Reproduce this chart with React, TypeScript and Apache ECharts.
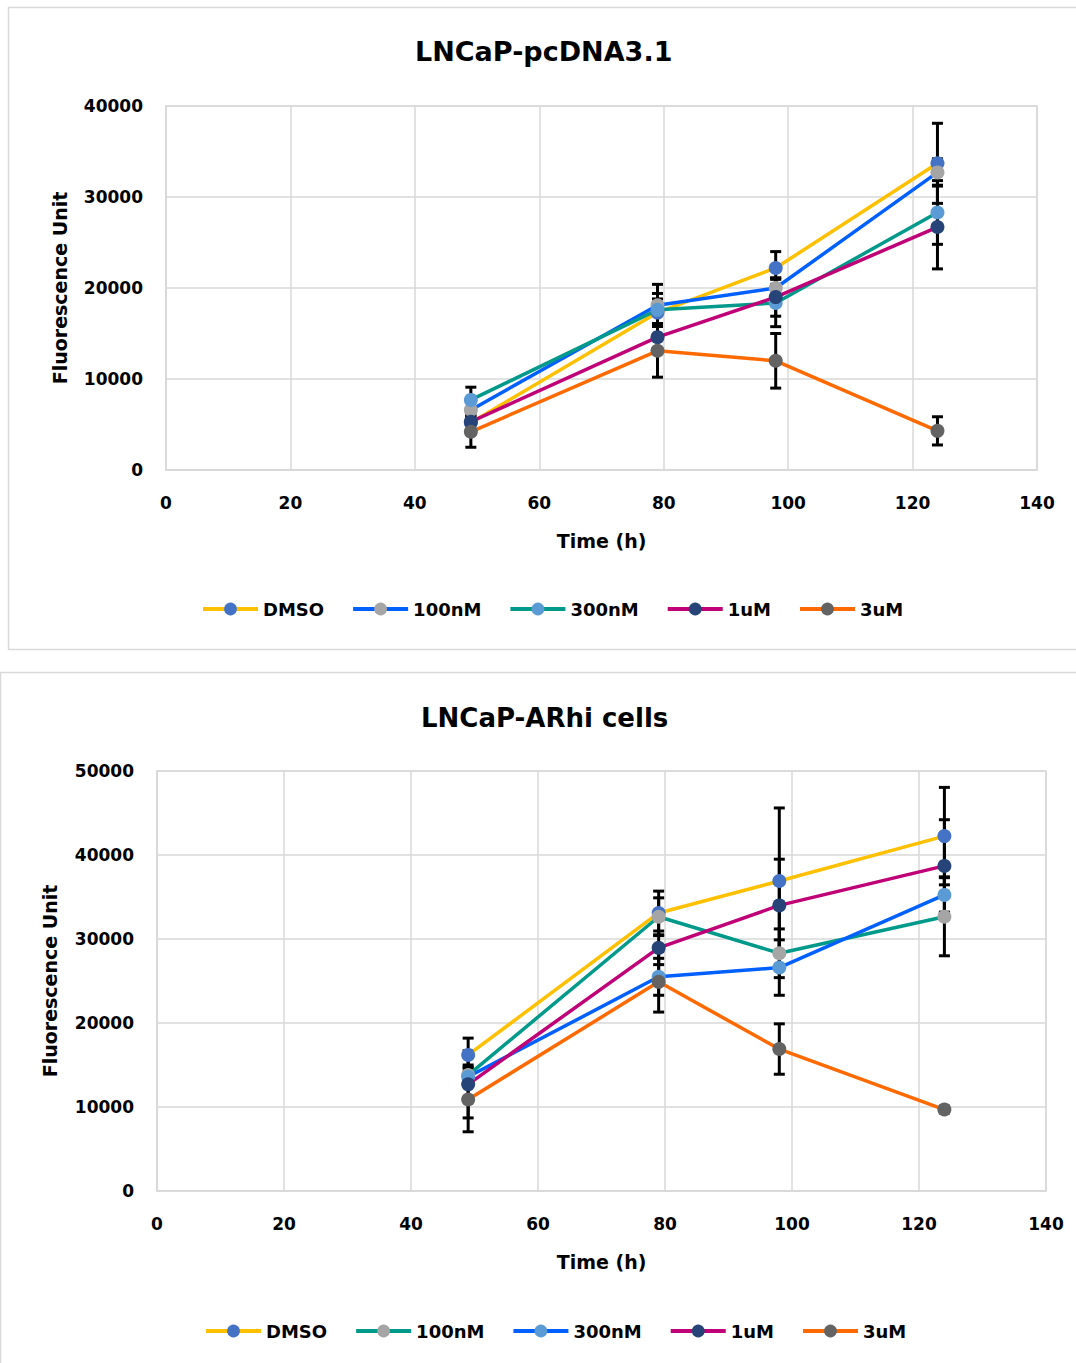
import React, { useEffect, useRef } from "react";
import * as echarts from "echarts";

// ---- Data ----
const times = [49, 79, 98, 124];
const seriesNames = ["DMSO", "100nM", "300nM", "1uM", "3uM"];

// Top chart: LNCaP-pcDNA3.1
const topTitle = "LNCaP-pcDNA3.1";
const topDMSO = [5200, 17300, 22200, 33700];
const top100nM = [6600, 18100, 20000, 32700];
const top300nM = [7700, 17600, 18350, 28300];
const top1uM = [5300, 14600, 19000, 26700];
const top3uM = [4200, 13100, 12000, 4300];
const topErrDMSO = [800, 1500, 1800, 4400];
const topErr100nM = [900, 2300, 1100, 1500];
const topErr300nM = [1400, 1800, 2600, 3500];
const topErr1uM = [1000, 1500, 2100, 4600];
const topErr3uM = [1700, 2900, 3000, 1550];

// Bottom chart: LNCaP-ARhi cells
const botTitle = "LNCaP-ARhi cells";
const botDMSO = [16200, 33100, 36900, 42250];
const bot100nM = [13800, 32650, 28300, 32650];
const bot300nM = [13600, 25500, 26600, 35250];
const bot1uM = [12700, 28950, 34000, 38700];
const bot3uM = [10900, 24900, 16900, 9700];
const botErrDMSO = [2000, 2600, 8700, 5800];
const botErr100nM = [1200, 2250, 2900, 4650];
const botErr300nM = [1000, 2200, 3300, 2150];
const botErr1uM = [4000, 2000, 5500, 5500];
const botErr3uM = [3850, 3600, 3000, 400];

const xTicksMax = 140;
const xTickStep = 20;
const topYMax = 40000;
const botYMax = 50000;
const yTickStep = 10000;

// ---- Styles ----
const FONT = "DejaVu Sans";
const YELLOW = "#FFC000";
const BLUE_LINE = "#0060FF";
const TEAL = "#00998A";
const MAGENTA = "#BF0077";
const ORANGE = "#FF6A00";
const M_BLUE = "#4472C4";
const M_GRAY = "#A5A5A5";
const M_LBLUE = "#5B9BD5";
const M_NAVY = "#264478";
const M_DGRAY = "#636363";

type Cfg = {
  title: string;
  titleTop: number;
  titleLeft: number;
  values: number[][];
  errs: number[][];
  lineColors: string[];
  markerColors: string[];
  grid: { left: number; top: number; width: number; height: number };
  yMax: number;
  yNameGap: number;
  legendLeft: number;
  legendTop: number;
  border: { x: number; y: number; w: number; h: number };
  titleSize: number;
};

function buildOption(c: Cfg) {
  const lineSeries = seriesNames.map((name, si) => ({
    name,
    type: "line",
    z: 3,
    data: times.map((t, i) => [t, c.values[si][i]]),
    symbol: "circle",
    symbolSize: 14,
    lineStyle: { color: c.lineColors[si], width: 3.5 },
    itemStyle: { color: c.markerColors[si] },
  }));
  const errSeries = seriesNames.map((name, si) => ({
    name: name + "-err",
    type: "custom",
    z: 2,
    data: times.map((t, i) => [t, c.values[si][i] - c.errs[si][i], c.values[si][i] + c.errs[si][i]]),
    encode: { x: 0, y: [1, 2] },
    renderItem: (params: any, api: any) => {
      const x = api.value(0);
      const lo = api.value(1);
      const hi = api.value(2);
      const p1 = api.coord([x, hi]);
      const p2 = api.coord([x, lo]);
      const w = 5.5;
      const st = { stroke: "#000", lineWidth: 3 };
      return {
        type: "group",
        children: [
          { type: "line", shape: { x1: p1[0], y1: p1[1], x2: p2[0], y2: p2[1] }, style: st },
          { type: "line", shape: { x1: p1[0] - w, y1: p1[1], x2: p1[0] + w, y2: p1[1] }, style: st },
          { type: "line", shape: { x1: p2[0] - w, y1: p2[1], x2: p2[0] + w, y2: p2[1] }, style: st },
        ],
      };
    },
  }));
  const txt = { fontFamily: FONT, fontWeight: "bold", color: "#000" };
  return {
    animation: false,
    textStyle: { fontFamily: FONT },
    title: {
      text: c.title,
      left: c.titleLeft,
      top: c.titleTop,
      padding: 0,
      textStyle: { ...txt, fontSize: c.titleSize },
    },
    graphic: [
      {
        type: "rect",
        shape: { x: c.border.x, y: c.border.y, width: c.border.w, height: c.border.h },
        style: { fill: "none", stroke: "#D9D9D9", lineWidth: 1.5 },
        silent: true,
      },
    ],
    legend: {
      left: c.legendLeft,
      top: c.legendTop,
      padding: 0,
      itemWidth: 55,
      itemHeight: 16,
      itemGap: 27,
      lineStyle: { width: 4 },
      textStyle: { ...txt, fontSize: 18 },
      data: seriesNames,
    },
    grid: {
      ...c.grid,
      show: true,
      borderColor: "#D9D9D9",
      borderWidth: 1.5,
      containLabel: false,
    },
    xAxis: {
      type: "value",
      min: 0,
      max: xTicksMax,
      interval: xTickStep,
      name: "Time (h)",
      nameLocation: "middle",
      nameGap: 61,
      nameTextStyle: { ...txt, fontSize: 19 },
      axisLine: { show: true, lineStyle: { color: "#D9D9D9", width: 1.5 } },
      axisTick: { show: false },
      axisLabel: { ...txt, fontSize: 17, margin: 24 },
      splitLine: { show: true, lineStyle: { color: "#D9D9D9", width: 1.5 } },
    },
    yAxis: {
      type: "value",
      min: 0,
      max: c.yMax,
      interval: yTickStep,
      name: "Fluorescence Unit",
      nameLocation: "middle",
      nameGap: c.yNameGap,
      nameTextStyle: { ...txt, fontSize: 19 },
      axisLine: { show: true, lineStyle: { color: "#D9D9D9", width: 1.5 } },
      axisTick: { show: false },
      axisLabel: { ...txt, fontSize: 17, margin: 23, formatter: (v: number) => String(v) },
      splitLine: { show: true, lineStyle: { color: "#D9D9D9", width: 1.5 } },
    },
    series: [...errSeries, ...lineSeries],
  };
}

const topCfg: Cfg = {
  title: topTitle,
  titleTop: 38,
  titleLeft: 415,
  titleSize: 27,
  values: [topDMSO, top100nM, top300nM, top1uM, top3uM],
  errs: [topErrDMSO, topErr100nM, topErr300nM, topErr1uM, topErr3uM],
  lineColors: [YELLOW, BLUE_LINE, TEAL, MAGENTA, ORANGE],
  markerColors: [M_BLUE, M_GRAY, M_LBLUE, M_NAVY, M_DGRAY],
  grid: { left: 166, top: 106, width: 871, height: 364 },
  yMax: topYMax,
  yNameGap: 97,
  legendLeft: 201,
  legendTop: 600,
  border: { x: 8.5, y: 7.5, w: 1100, h: 642 },
};

const botCfg: Cfg = {
  title: botTitle,
  titleTop: 45,
  titleLeft: 421,
  titleSize: 26,
  values: [botDMSO, bot100nM, bot300nM, bot1uM, bot3uM],
  errs: [botErrDMSO, botErr100nM, botErr300nM, botErr1uM, botErr3uM],
  lineColors: [YELLOW, TEAL, BLUE_LINE, MAGENTA, ORANGE],
  markerColors: [M_BLUE, M_GRAY, M_LBLUE, M_NAVY, M_DGRAY],
  grid: { left: 157, top: 111, width: 889, height: 420 },
  yMax: botYMax,
  yNameGap: 98,
  legendLeft: 204,
  legendTop: 662,
  border: { x: 0.5, y: 12.5, w: 1100, h: 800 },
};

function Chart({ cfg, top, height }: { cfg: Cfg; top: number; height: number }) {
  const ref = useRef<HTMLDivElement>(null);
  useEffect(() => {
    if (!ref.current) return;
    const chart = echarts.init(ref.current, undefined, { renderer: "svg" });
    chart.setOption(buildOption(cfg) as any);
    return () => chart.dispose();
  }, [cfg]);
  return (
    <div
      ref={ref}
      style={{ position: "absolute", left: 0, top, width: 1076, height, background: "#fff" }}
    />
  );
}

export default function App() {
  return (
    <>
      <Chart cfg={topCfg} top={0} height={660} />
      <Chart cfg={botCfg} top={660} height={703} />
    </>
  );
}
